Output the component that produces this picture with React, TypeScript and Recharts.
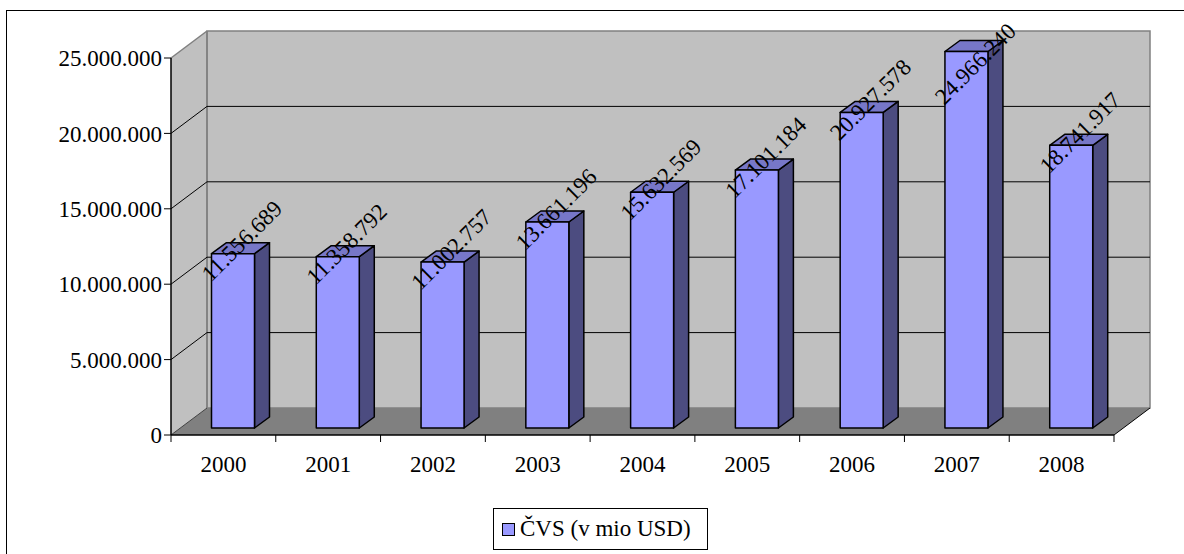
import React from 'react';
import { BarChart, Bar, XAxis, YAxis, ReferenceArea, LabelList } from 'recharts';

const years = ['2000', '2001', '2002', '2003', '2004', '2005', '2006', '2007', '2008'];
const cvsValues = [11556689, 11358792, 11002757, 13661196, 15632569, 17101184, 20927578, 24966240, 18741917];
const yTicks = [0, 5000000, 10000000, 15000000, 20000000, 25000000];
const seriesName = 'ČVS (v mio USD)';

const data = years.map((year, i) => ({ year, cvs: cvsValues[i] }));

const FONT = "'Times New Roman', 'Liberation Serif', 'DejaVu Serif', serif";

// depth of the 3D walls and of the bars
const WALL_DX = 36;
const WALL_DY = 27;
const BAR_SHIFT_X = 9.5;
const BAR_SHIFT_Y = 7;
const BAR_DX = 15;
const BAR_DY = 11;

const fmt = (v: number) => String(v).replace(/\B(?=(\d{3})+(?!\d))/g, '.');

const Walls = (props: any) => {
  const { x, y, width, height } = props;
  const bottom = y + height;
  const bx = x + WALL_DX;
  const by = y - WALL_DY;
  const max = yTicks[yTicks.length - 1];
  const gridYs = yTicks.slice(1, -1).map(v => bottom - (height * v) / max);
  return (
    <g>
      <polygon points={`${x},${y} ${bx},${by} ${bx},${by + height} ${x},${bottom}`} fill="#c0c0c0" />
      <rect x={bx} y={by} width={width} height={height} fill="#c0c0c0" stroke="#808080" strokeWidth={1.5} />
      <polygon
        points={`${x},${bottom} ${bx},${by + height} ${bx + width},${by + height} ${x + width},${bottom}`}
        fill="#808080"
      />
      <line x1={x} y1={y} x2={bx} y2={by} stroke="#808080" strokeWidth={1.5} />
      <line x1={bx} y1={by} x2={bx} y2={by + height} stroke="#808080" strokeWidth={1.5} />
      {gridYs.map((gy, i) => (
        <g key={i}>
          <line x1={x} y1={gy} x2={bx} y2={gy - WALL_DY} stroke="#000" />
          <line x1={bx} y1={gy - WALL_DY} x2={bx + width} y2={gy - WALL_DY} stroke="#000" />
        </g>
      ))}
      <line x1={x} y1={bottom} x2={bx} y2={by + height} stroke="#404040" />
      <line x1={x + width} y1={bottom} x2={bx + width} y2={by + height} stroke="#000" />
    </g>
  );
};

const Box = (props: any) => {
  const { x, y, width, height } = props;
  const fx = x + BAR_SHIFT_X;
  const fy = y - BAR_SHIFT_Y;
  const r = fx + width;
  const b = fy + height;
  return (
    <g stroke="#000" strokeWidth={1.5} strokeLinejoin="round">
      <polygon points={`${r},${fy} ${r + BAR_DX},${fy - BAR_DY} ${r + BAR_DX},${b - BAR_DY} ${r},${b}`} fill="#4c4c80" />
      <polygon points={`${fx},${fy} ${fx + BAR_DX},${fy - BAR_DY} ${r + BAR_DX},${fy - BAR_DY} ${r},${fy}`} fill="#7777c8" />
      <rect x={fx} y={fy} width={width} height={height} fill="#9999ff" />
    </g>
  );
};

const ValueLabel = (props: any) => {
  const { x, y, width, value } = props;
  const cx = x + width / 2 + BAR_SHIFT_X + BAR_DX / 2 + 1.5;
  const cy = Math.max(y - BAR_SHIFT_Y - BAR_DY / 2 - 7, 64);
  return (
    <text
      x={cx}
      y={cy}
      transform={`rotate(-45 ${cx} ${cy})`}
      textAnchor="middle"
      dominantBaseline="central"
      style={{ fontFamily: FONT }}
      fontSize={23}
      fill="#000"
    >
      {fmt(value)}
    </text>
  );
};

const YearTick = (props: any) => {
  const { x, y, payload, index, visibleTicksCount, width } = props;
  const band = width / visibleTicksCount;
  const left = x - band / 2;
  return (
    <g>
      <line x1={left} y1={y} x2={left} y2={y + 7} stroke="#000" />
      {index === visibleTicksCount - 1 && <line x1={left + band} y1={y} x2={left + band} y2={y + 7} stroke="#000" />}
      <text x={x} y={y + 37} textAnchor="middle" style={{ fontFamily: FONT }} fontSize={23} fill="#000">
        {payload.value}
      </text>
    </g>
  );
};

export default function App() {
  return (
    <div style={{ position: 'fixed', left: 0, top: 0, width: 1184, height: 554, overflow: 'hidden', background: '#fff', fontFamily: FONT }}>
      <div style={{ position: 'absolute', left: 6, top: 10, width: 1300, height: 700, border: '1px solid #000' }} />
      <div style={{ position: 'absolute', left: 0, top: 0 }}>
        <BarChart width={1184} height={554} data={data} margin={{ top: 58, right: 70, bottom: 79, left: 0 }} barSize={43}>
          <ReferenceArea y1={0} y2={25000000} shape={<Walls />} />
          <XAxis
            dataKey="year"
            height={40}
            interval={0}
            tickSize={0}
            tickMargin={0}
            tickLine={false}
            axisLine={{ stroke: '#000', strokeWidth: 1.5 }}
            tick={<YearTick />}
          />
          <YAxis
            width={171}
            domain={[0, 25000000]}
            ticks={yTicks}
            interval={0}
            tickFormatter={fmt}
            tickSize={7}
            axisLine={{ stroke: '#000', strokeWidth: 1.5 }}
            tickLine={{ stroke: '#000' }}
            tick={{ fontSize: 23, fill: '#000', style: { fontFamily: FONT } }}
          />
          <Bar dataKey="cvs" name={seriesName} shape={<Box />} isAnimationActive={false}>
            <LabelList dataKey="cvs" content={<ValueLabel />} />
          </Bar>
        </BarChart>
      </div>
      <div
        style={{
          position: 'absolute',
          left: 493,
          top: 508,
          width: 213,
          height: 40,
          border: '1px solid #000',
          background: '#fff',
          fontSize: 23,
          display: 'flex',
          alignItems: 'center',
          whiteSpace: 'nowrap',
        }}
      >
        <span style={{ display: 'inline-block', width: 11, height: 11, border: '1px solid #000', background: '#9999ff', marginLeft: 8, marginRight: 5 }} />
        <span>{seriesName}</span>
      </div>
    </div>
  );
}
